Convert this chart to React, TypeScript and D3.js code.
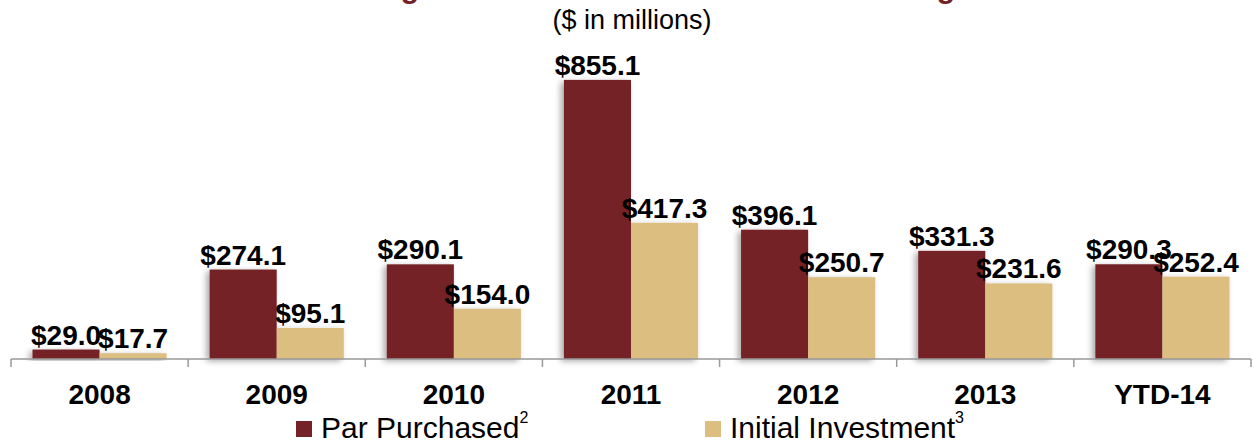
import { useEffect, useRef } from 'react'
import * as d3 from 'd3'

const categories = ['2008', '2009', '2010', '2011', '2012', '2013', 'YTD-14']
const parPurchased = [29.0, 274.1, 290.1, 855.1, 396.1, 331.3, 290.3]
const initialInvestment = [17.7, 95.1, 154.0, 417.3, 250.7, 231.6, 252.4]
const seriesNames = ['Par Purchased', 'Initial Investment']
const seriesNotes = ['2', '3']
const subtitle = '($ in millions)'

const RED = '#742227'
const TAN = '#dcbe81'
const FONT = 'Liberation Sans, Arial, sans-serif'

export default function App() {
  const svgRef = useRef<SVGSVGElement>(null)

  useEffect(() => {
    if (!svgRef.current) return
    const W = 1254
    const H = 445
    const svg = d3.select(svgRef.current)
    svg.selectAll('*').remove()
    svg.attr('width', W).attr('height', H)

    const defs = svg.append('defs')
    const f = defs.append('filter').attr('id', 'shadow')
      .attr('x', '-20%').attr('y', '-20%').attr('width', '140%').attr('height', '140%')
    f.append('feDropShadow')
      .attr('dx', -3).attr('dy', 2).attr('stdDeviation', 3)
      .attr('flood-color', '#000').attr('flood-opacity', 0.35)

    // title is cut off at the top edge, only two descenders show
    svg.append('g').selectAll('text')
      .data([410, 946])
      .join('text')
      .attr('x', d => d).attr('y', -2)
      .attr('text-anchor', 'middle')
      .attr('font-family', FONT)
      .attr('font-weight', 'bold').attr('font-size', 30)
      .attr('fill', RED)
      .text('g')

    svg.append('text')
      .attr('x', 632).attr('y', 29)
      .attr('text-anchor', 'middle')
      .attr('font-family', FONT)
      .attr('font-size', 27)
      .attr('fill', '#000')
      .text(subtitle)

    const x = d3.scaleBand<string>()
      .domain(categories)
      .range([11, 1251])

    const inner = d3.scaleBand<number>()
      .domain([0, 1])
      .range([21.5, x.bandwidth() - 21.5])

    const y = d3.scaleLinear().domain([0, 1100]).range([359, 0])

    const data = categories.map((c, i) => ({ c, vals: [parPurchased[i], initialInvestment[i]] }))
    const colors = [RED, TAN]

    const groups = svg.append('g').selectAll('g')
      .data(data)
      .join('g')
      .attr('transform', d => `translate(${x(d.c)},0)`)

    groups.append('g').attr('filter', 'url(#shadow)')
      .selectAll('rect')
      .data(d => d.vals)
      .join('rect')
      .attr('x', (_, j) => inner(j)!)
      .attr('width', inner.bandwidth())
      .attr('y', v => y(v))
      .attr('height', v => y(0) - y(v))
      .attr('fill', (_, j) => colors[j])

    groups.selectAll('text.val')
      .data(d => d.vals)
      .join('text')
      .attr('class', 'val')
      .attr('x', (_, j) => inner(j)! + inner.bandwidth() / 2)
      .attr('y', v => y(v) - 5)
      .attr('text-anchor', 'middle')
      .attr('font-family', FONT)
      .attr('font-weight', 'bold')
      .attr('font-size', 28)
      .attr('fill', '#000')
      .text(v => `$${v.toFixed(1)}`)

    // axis line with separators between categories
    const axis = svg.append('g')
      .attr('transform', `translate(0,${y(0)})`)
      .call(d3.axisBottom(x).tickSize(0).tickFormat(() => ''))
    axis.select('.domain').attr('stroke', '#999').attr('stroke-width', 1.5)
      .attr('d', `M11,0H1251`)
    axis.selectAll('.tick').remove()
    axis.selectAll('line.sep')
      .data([...categories.map(c => x(c)!), 1251])
      .join('line')
      .attr('class', 'sep')
      .attr('x1', d => d).attr('x2', d => d)
      .attr('y1', 0).attr('y2', 8)
      .attr('stroke', '#999').attr('stroke-width', 1.5)

    svg.append('g').selectAll('text')
      .data(categories)
      .join('text')
      .attr('x', d => x(d)! + x.bandwidth() / 2)
      .attr('y', 404)
      .attr('text-anchor', 'middle')
      .attr('font-family', FONT)
      .attr('font-weight', 'bold')
      .attr('font-size', 28)
      .attr('fill', '#000')
      .text(d => d)

    // legend
    const legendX = [296, 705]
    const leg = svg.append('g').selectAll('g')
      .data(seriesNames)
      .join('g')
      .attr('transform', (_, i) => `translate(${legendX[i]},0)`)
    leg.append('rect')
      .attr('x', 0).attr('y', 421).attr('width', 16).attr('height', 16)
      .attr('fill', (_, i) => colors[i])
    const lt = leg.append('text')
      .attr('x', 25).attr('y', 438)
      .attr('font-family', FONT)
      .attr('font-size', 30)
      .attr('fill', '#000')
    lt.append('tspan').text(d => d)
    lt.append('tspan')
      .attr('dy', -15)
      .attr('font-size', 16)
      .text((_, i) => seriesNotes[i])
  }, [])

  return (
    <svg ref={svgRef} style={{ position: 'absolute', left: 0, top: 0, background: '#fff' }}></svg>
  )
}
